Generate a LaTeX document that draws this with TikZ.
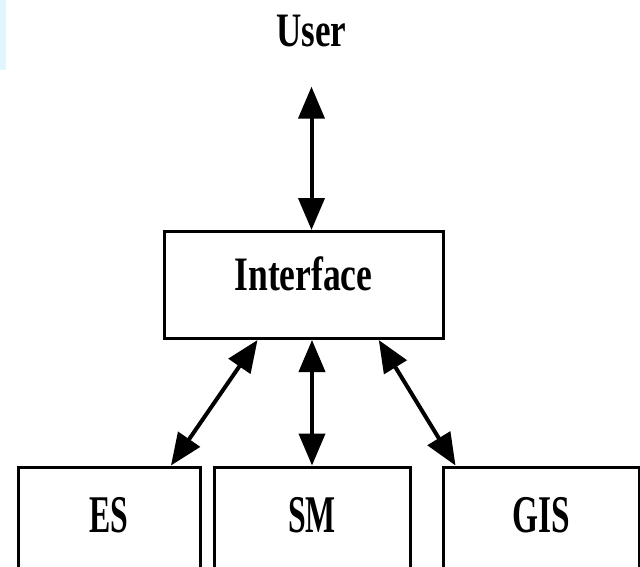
\documentclass[tikz,border=0pt]{standalone}
\usepackage{fontspec}
\usepackage{graphicx}
\setmainfont{Liberation Serif}
\usetikzlibrary{arrows.meta,calc}
\begin{document}
\begin{tikzpicture}[x=1pt,y=-1pt,
  box/.style={draw, line width=3pt, inner sep=0pt},
  topfont/.style={font=\fontsize{48}{50}\selectfont\bfseries},
  lowfont/.style={font=\fontsize{53}{55}\selectfont\bfseries},
  link/.style={line width=4pt, {Triangle[length=32pt,width=26pt]}-{Triangle[length=32pt,width=26pt]}},
]
\useasboundingbox (0,0) rectangle (640,566);
\clip (0,0) rectangle (640,566);
\fill[cyan!12] (0,0) rectangle (6,70);
% nodes
\node[topfont, inner sep=0pt] (user) at (311.5,31.5) {\scalebox{0.73}[1]{User}};
\node[box, topfont, minimum width=279pt, minimum height=107pt, text height=33pt, text depth=23pt]
  (iface) at (303.5,285) {\scalebox{0.74}[1]{Interface}};
\node[box, lowfont, minimum width=182pt, minimum height=130pt, text height=35pt, text depth=35pt]
  (es) at (109,532) {\scalebox{0.6}[1]{ES}};
\node[box, lowfont, minimum width=196pt, minimum height=130pt, text height=35pt, text depth=35pt]
  (sm) at (312,532) {\scalebox{0.6}[1]{SM}};
\node[box, lowfont, minimum width=196pt, minimum height=130pt, text height=35pt, text depth=35pt]
  (gis) at (541,532) {\scalebox{0.63}[1]{GIS}};
% connectors
\draw[link, shorten <=39pt] (user.south) -- (iface.north -| user.south);
\draw[link] (iface.south -| sm.north) -- (sm.north);
\draw[link] ($(iface.south west)!0.337!(iface.south east)$) -- ($(es.north west)!0.835!(es.north east)$);
\draw[link] ($(iface.south west)!0.767!(iface.south east)$) -- ($(gis.north west)+(14,0)$);
\end{tikzpicture}
\end{document}
